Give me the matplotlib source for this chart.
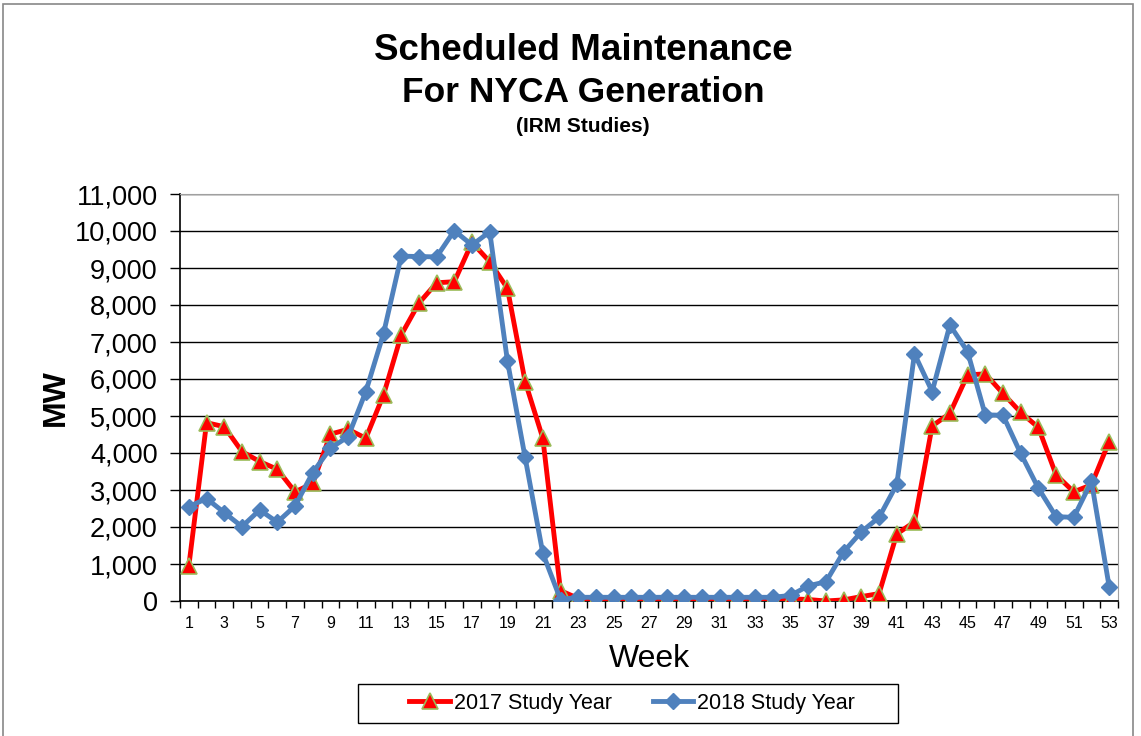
import numpy as np
import matplotlib
matplotlib.use("Agg")
import matplotlib.pyplot as plt
from matplotlib.patches import Rectangle

plt.rcParams['font.family'] = ['Liberation Sans', 'DejaVu Sans']

weeks = list(range(1, 54))
mw_2017 = [950, 4820, 4710, 4040, 3770, 3560, 2950, 3180, 4510, 4640,
           4400, 5570, 7190, 8050, 8600, 8630, 9690, 9170, 8450, 5930,
           4400, 280, 70, 60, 60, 60, 60, 60, 60, 60,
           60, 60, 60, 60, 60, 40, 0, 30, 120, 200,
           1810, 2140, 4730, 5070, 6110, 6140, 5610, 5100, 4690, 3410,
           2950, 3140, 4310]
mw_2018 = [2550, 2770, 2390, 2010, 2460, 2130, 2570, 3470, 4130, 4440,
           5660, 7230, 9320, 9310, 9300, 10010, 9620, 9980, 6490, 3880,
           1290, 40, 100, 100, 100, 100, 100, 100, 100, 100,
           100, 100, 100, 100, 150, 410, 520, 1330, 1870, 2260,
           3150, 6680, 5660, 7460, 6740, 5030, 5020, 3990, 3050, 2280,
           2260, 3230, 390]
week_labels = [str(w) for w in weeks if w % 2 == 1]

fig = plt.figure(figsize=(11.41, 7.36), dpi=100)
ax = fig.add_axes([180/1141, 1 - 601/736, (1118 - 180)/1141, (601 - 194)/736])

ax.plot(weeks, mw_2017, color='#FF0000', lw=3.5, marker='^', ms=11,
        mfc='#FF0000', mec='#9BBB59', mew=1.2, label='2017 Study Year', zorder=3)
ax.plot(weeks, mw_2018, color='#4F81BD', lw=3.5, marker='D', ms=8.5,
        mfc='#4F81BD', mec='#4F81BD', label='2018 Study Year', zorder=4)

ax.set_xlim(0.5, 53.5)
ax.set_ylim(0, 11000)
ax.set_yticks(np.arange(0, 11001, 1000))
ax.set_yticklabels([f'{v:,}' for v in range(0, 11001, 1000)], fontsize=19.5)
ax.yaxis.grid(True, color='black', lw=1)
ax.set_axisbelow(True)

# excel style category axis: ticks between weeks, labels on odd weeks
ax.set_xticks(np.arange(0.5, 54, 1), minor=True)
ax.set_xticks([w for w in weeks if w % 2 == 1])
ax.set_xticklabels(week_labels, fontsize=11.5)
ax.tick_params(axis='x', which='major', length=0, pad=11)
ax.tick_params(axis='x', which='minor', length=5, width=1, direction='out')
ax.tick_params(axis='y', length=7, width=1, direction='out', pad=9)

for s in ['top', 'right']:
    ax.spines[s].set_color('#A0A0A0')
for s in ['left', 'bottom']:
    ax.spines[s].set_color('black')
    ax.spines[s].set_linewidth(1.2)

ax.set_xlabel('Week', fontsize=23, labelpad=9)
ax.set_ylabel('MW', fontsize=23, fontweight='bold', labelpad=3)

fig.text(0.511, 1 - 50/736, 'Scheduled Maintenance', ha='center', va='center',
         fontsize=26.5, fontweight='bold')
fig.text(0.511, 1 - 92/736, 'For NYCA Generation', ha='center', va='center',
         fontsize=25.5, fontweight='bold')
fig.text(0.511, 1 - 126/736, '(IRM Studies)', ha='center', va='center',
         fontsize=15, fontweight='bold')

leg = fig.legend(loc='center', bbox_to_anchor=(632/1141, 1 - 703/736), ncol=2,
                 fontsize=15.5, frameon=False, handlelength=1.9,
                 handletextpad=0.15, columnspacing=1.9)

# legend box drawn separately (wider than the legend content)
fig.patches.append(Rectangle((358/1141, 1 - 723/736), 540/1141, 39/736,
                             transform=fig.transFigure, fill=False,
                             edgecolor='black', lw=1))
fig.patches.append(Rectangle((3/1141, -0.01), 1130/1141, 1 - 4/736 + 0.01,
                             transform=fig.transFigure, fill=False,
                             edgecolor='#888888', lw=1.2))

fig.savefig('out.png', dpi=100)
